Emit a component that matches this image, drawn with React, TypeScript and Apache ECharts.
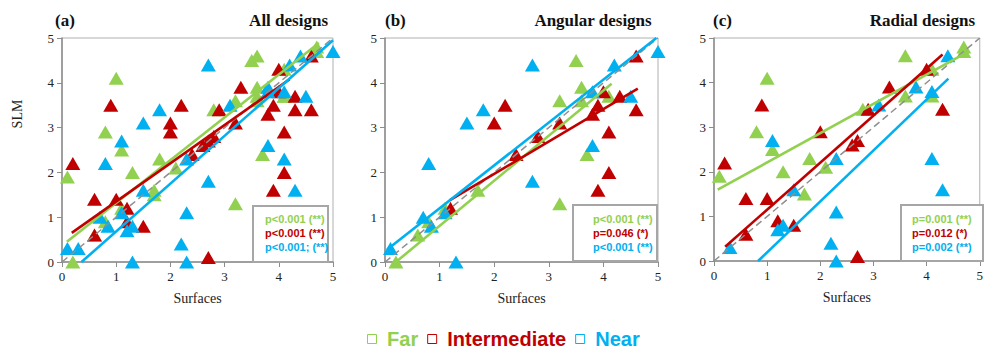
import React, { useEffect, useRef } from "react";
import * as echarts from "echarts";

const GREEN = "#92D050";
const RED = "#C00000";
const BLUE = "#00B0F0";
const SERIF = "'Liberation Serif', 'Times New Roman', serif";
const SANS = "'Liberation Sans', Arial, sans-serif";

// Angular designs [Surfaces, SLM]
const angularFar = [[0.2, 0.0], [0.6, 0.6], [0.8, 0.9], [1.1, 1.2], [1.7, 1.6], [3.2, 3.6], [3.5, 4.5], [3.6, 3.9], [3.6, 3.6], [4.1, 3.7], [3.7, 2.4], [3.2, 1.3]];
const angularMid = [[1.2, 1.2], [2.0, 3.1], [2.2, 3.5], [2.4, 2.4], [2.8, 2.8], [3.2, 3.1], [3.8, 3.3], [3.9, 3.5], [4.0, 3.8], [4.3, 3.7], [4.6, 3.4], [4.6, 4.6], [4.1, 2.9], [4.1, 2.0], [3.9, 1.6]];
const angularNear = [[0.1, 0.3], [1.3, 0.0], [0.7, 1.0], [0.85, 0.8], [1.1, 1.1], [0.8, 2.2], [1.5, 3.1], [1.8, 3.4], [2.7, 4.4], [2.7, 1.8], [3.8, 3.8], [3.8, 2.6], [4.2, 4.4], [4.5, 3.7], [5.0, 4.7]];

// Radial designs
const radialFar = [[0.1, 1.9], [0.8, 2.9], [1.0, 4.1], [1.1, 2.5], [1.3, 2.0], [1.7, 1.5], [1.8, 2.3], [2.1, 2.1], [2.8, 3.4], [3.6, 4.6], [3.6, 3.7], [4.1, 3.7], [4.1, 4.3], [4.7, 4.8], [4.7, 4.7]];
const radialMid = [[0.2, 2.2], [0.6, 1.4], [0.6, 0.6], [0.9, 3.5], [1.0, 1.4], [1.2, 0.9], [1.5, 0.8], [2.0, 2.9], [2.6, 2.6], [2.7, 2.7], [2.7, 0.1], [2.9, 3.4], [3.3, 3.9], [4.0, 4.3], [4.3, 3.4]];
const radialNear = [[0.3, 0.3], [1.1, 2.7], [1.2, 0.7], [1.3, 0.8], [1.5, 1.6], [2.2, 0.4], [2.3, 0.0], [2.3, 1.1], [2.3, 2.3], [3.1, 3.5], [3.8, 3.9], [4.1, 3.8], [4.1, 2.3], [4.3, 1.6], [4.4, 4.6]];

// Trendline endpoints
const trendAllFar = [[0.09, 0.45], [4.74, 4.89]];
const trendAllMid = [[0.18, 0.65], [4.2, 4.08]];
const trendAllNear = [[0.36, 0.0], [5.0, 4.95]];
const trendAngFar = [[0.2, 0.0], [4.15, 3.98]];
const trendAngMid = [[1.19, 1.38], [4.63, 3.87]];
const trendAngNear = [[0.04, 0.28], [4.97, 5.0]];
const trendRadFar = [[0.07, 1.6], [4.75, 4.67]];
const trendRadMid = [[0.21, 0.32], [4.3, 4.63]];
const trendRadNear = [[0.83, 0.0], [4.41, 4.09]];
const identityLine = [[0, 0], [5, 5]];

const panelLetters = ["(a)", "(b)", "(c)"];
const panelTitles = ["All designs", "Angular designs", "Radial designs"];
const statsAll = ["p<0.001 (**)", "p<0.001 (**)", "p<0.001; (**)"];
const statsAng = ["p<0.001 (**)", "p=0.046 (*)", "p<0.001 (**)"];
const statsRad = ["p=0.001 (**)", "p=0.012 (*)", "p=0.002 (**)"];
const groupNames = ["Far", "Intermediate", "Near"];
const axisTicks = [0, 1, 2, 3, 4, 5];

export default function App() {
  const ref = useRef<HTMLDivElement>(null);
  useEffect(() => {
    if (!ref.current) return;
    const chart = echarts.init(ref.current, null, { renderer: "svg" });
    const colors = [GREEN, RED, BLUE];
    const grids = [
      { left: 62, top: 38, width: 271, height: 224 },
      { left: 385, top: 38, width: 273, height: 224 },
      { left: 714, top: 38, width: 271, height: 223 },
    ];
    const panelData = [
      [angularFar.concat(radialFar), angularMid.concat(radialMid), angularNear.concat(radialNear)],
      [angularFar, angularMid, angularNear],
      [radialFar, radialMid, radialNear],
    ];
    const trends = [
      [trendAllFar, trendAllMid, trendAllNear],
      [trendAngFar, trendAngMid, trendAngNear],
      [trendRadFar, trendRadMid, trendRadNear],
    ];
    const stats = [statsAll, statsAng, statsRad];
    const boxes = [
      { x: 253, y: 206, w: 75, h: 56, tx: 265 },
      { x: 573, y: 205, w: 84, h: 56, tx: 593 },
      { x: 901, y: 205, w: 82, h: 56, tx: 912 },
    ];

    const axisCommon = {
      type: "value" as const,
      min: 0,
      max: 5,
      interval: 1,
      splitLine: { show: false },
      axisLine: { show: true, lineStyle: { color: "#8c8c8c", width: 1.5 } },
      axisTick: { show: true, inside: false, length: 5, lineStyle: { color: "#8c8c8c", width: 1 } },
      axisLabel: { color: "#222", fontFamily: SERIF, fontSize: 13, margin: 8 },
    };

    const series: any[] = [];
    for (let p = 0; p < 3; p++) {
      for (let s = 0; s < 3; s++) {
        series.push({
          type: "scatter",
          name: groupNames[s],
          xAxisIndex: p,
          yAxisIndex: p,
          symbol: "triangle",
          symbolSize: [15, 13],
          itemStyle: { color: colors[s], opacity: 1 },
          data: panelData[p][s],
          z: 2,
        });
      }
      series.push({
        type: "line",
        name: "1:1",
        xAxisIndex: p,
        yAxisIndex: p,
        data: identityLine,
        showSymbol: false,
        symbol: "none",
        lineStyle: { color: "#8f8f8f", width: 1.5, type: [7, 4] },
        z: 3,
        silent: true,
      });
      for (let s = 0; s < 3; s++) {
        series.push({
          type: "line",
          name: groupNames[s] + " trend",
          xAxisIndex: p,
          yAxisIndex: p,
          data: trends[p][s],
          showSymbol: false,
          symbol: "none",
          lineStyle: { color: colors[s], width: 2.6 },
          z: 4,
          silent: true,
        });
      }
    }

    const graphics: any[] = [];
    graphics.push({
      type: "text",
      x: 17,
      y: 114,
      rotation: Math.PI / 2,
      style: { text: "SLM", fill: "#222", font: `14px ${SERIF}`, align: "center", verticalAlign: "middle" },
    });
    for (let p = 0; p < 3; p++) {
      const b = boxes[p];
      graphics.push({
        type: "rect",
        shape: { x: b.x, y: b.y, width: b.w, height: b.h },
        style: { fill: "#fff", stroke: "#a6a6a6", lineWidth: 2 },
        z: 10,
      });
      stats[p].forEach((t, i) => {
        graphics.push({
          type: "text",
          x: b.tx,
          y: 219 + i * 14,
          style: { text: t, fill: colors[i], font: `bold 11px ${SANS}`, align: "left", verticalAlign: "middle" },
          z: 11,
        });
      });
    }

    const titles: any[] = [];
    const letterLeft = [55, 385, 713];
    const titleRight = [658, 334, 11];
    for (let p = 0; p < 3; p++) {
      titles.push({
        text: panelLetters[p],
        left: letterLeft[p],
        top: 12,
        padding: 0,
        textStyle: { fontFamily: SERIF, fontWeight: "bold", fontSize: 17, color: "#111" },
      });
      titles.push({
        text: panelTitles[p],
        right: titleRight[p],
        top: 12,
        padding: 0,
        textStyle: { fontFamily: SERIF, fontWeight: "bold", fontSize: 17, color: "#111" },
      });
    }

    chart.setOption({
      animation: false,
      backgroundColor: "#fff",
      title: titles,
      grid: grids.map((g) => ({ ...g, show: true, borderColor: "#b0b0b0", borderWidth: 1, backgroundColor: "transparent" })),
      xAxis: grids.map((_, i) => ({
        ...axisCommon,
        gridIndex: i,
        name: "Surfaces",
        nameLocation: "middle",
        nameGap: 29,
        nameTextStyle: { fontFamily: SERIF, fontSize: 14, color: "#222" },
        axisLabel: { ...axisCommon.axisLabel, customValues: axisTicks },
      })),
      yAxis: grids.map((_, i) => ({ ...axisCommon, gridIndex: i })),
      legend: {
        left: 367,
        top: 329,
        padding: 0,
        icon: "rect",
        itemWidth: 9,
        itemHeight: 9,
        itemGap: 9,
        selectedMode: false,
        formatter: " {name}",
        textStyle: { fontFamily: SANS, fontWeight: "bold", fontSize: 20, lineHeight: 20 },
        data: groupNames.map((n, i) => ({
          name: n,
          icon: "rect",
          itemStyle: { color: "transparent", borderColor: colors[i], borderWidth: 1 },
          textStyle: { color: colors[i], fontFamily: SANS, fontWeight: "bold", fontSize: 20 },
        })),
      },
      graphic: graphics,
      series,
    });
    return () => chart.dispose();
  }, []);
  return <div ref={ref} style={{ position: "fixed", left: 0, top: 0, width: 986, height: 350 }} />;
}
